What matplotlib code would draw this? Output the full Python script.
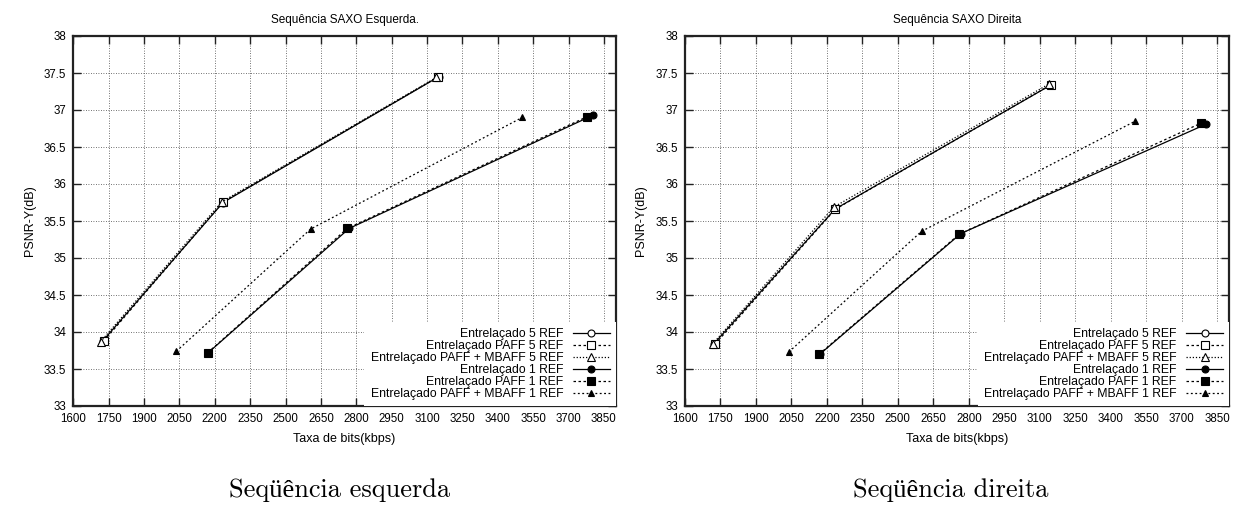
import matplotlib
matplotlib.use('Agg')
import matplotlib.pyplot as plt
from matplotlib.ticker import FuncFormatter

plt.rcParams['font.family'] = ['Liberation Sans', 'DejaVu Sans']

# ---------------- data ----------------
series_labels = ["Entrelaçado 5 REF", "Entrelaçado PAFF 5 REF",
                 "Entrelaçado PAFF + MBAFF 5 REF", "Entrelaçado 1 REF",
                 "Entrelaçado PAFF 1 REF", "Entrelaçado PAFF + MBAFF 1 REF"]
titles = ["Sequência SAXO Esquerda.", "Sequência SAXO Direita"]
captions = ["Seqüência esquerda", "Seqüência direita"]
x_ticks = [1600, 1750, 1900, 2050, 2200, 2350, 2500, 2650, 2800, 2950,
           3100, 3250, 3400, 3550, 3700, 3850]
y_ticks = [33, 33.5, 34, 34.5, 35, 35.5, 36, 36.5, 37, 37.5, 38]

# left sequence (esquerda)
esq_ent5_x = [1725, 2235, 3150]
esq_ent5_y = [33.88, 35.75, 37.45]
esq_paff5_x = [1730, 2236, 3148]
esq_paff5_y = [33.88, 35.76, 37.45]
esq_mbaff5_x = [1716, 2230, 3140]
esq_mbaff5_y = [33.87, 35.76, 37.44]
esq_ent1_x = [2172, 2770, 3804]
esq_ent1_y = [33.72, 35.40, 36.93]
esq_paff1_x = [2170, 2762, 3779]
esq_paff1_y = [33.72, 35.40, 36.91]
esq_mbaff1_x = [2037, 2606, 3504]
esq_mbaff1_y = [33.74, 35.39, 36.90]

# right sequence (direita)
dir_ent5_x = [1722, 2234, 3148]
dir_ent5_y = [33.84, 35.66, 37.34]
dir_paff5_x = [1728, 2236, 3146]
dir_paff5_y = [33.84, 35.66, 37.34]
dir_mbaff5_x = [1717, 2230, 3138]
dir_mbaff5_y = [33.84, 35.69, 37.35]
dir_ent1_x = [2170, 2766, 3804]
dir_ent1_y = [33.70, 35.33, 36.81]
dir_paff1_x = [2167, 2759, 3780]
dir_paff1_y = [33.70, 35.32, 36.82]
dir_mbaff1_x = [2039, 2600, 3504]
dir_mbaff1_y = [33.73, 35.36, 36.85]

left_series = [(esq_ent5_x, esq_ent5_y), (esq_paff5_x, esq_paff5_y),
               (esq_mbaff5_x, esq_mbaff5_y), (esq_ent1_x, esq_ent1_y),
               (esq_paff1_x, esq_paff1_y), (esq_mbaff1_x, esq_mbaff1_y)]
right_series = [(dir_ent5_x, dir_ent5_y), (dir_paff5_x, dir_paff5_y),
                (dir_mbaff5_x, dir_mbaff5_y), (dir_ent1_x, dir_ent1_y),
                (dir_paff1_x, dir_paff1_y), (dir_mbaff1_x, dir_mbaff1_y)]

# ---------------- styles ----------------
styles = [
    dict(ls='-', marker='o', mfc='white', ms=5),
    dict(ls=(0, (2, 2)), marker='s', mfc='white', ms=5.5),
    dict(ls=(0, (1, 1.5)), marker='^', mfc='white', ms=6),
    dict(ls='-', marker='o', mfc='black', ms=5),
    dict(ls=(0, (2, 2)), marker='s', mfc='black', ms=5.5),
    dict(ls=(0, (1.5, 2)), marker='^', mfc='black', ms=4),
]

W, H = 1241, 509
fig = plt.figure(figsize=(W / 100, H / 100), dpi=100)
ax_rects = [
    [73.3 / W, (H - 406) / H, (615.7 - 73.3) / W, 370 / H],
    [685 / W, (H - 406) / H, (1229 - 685) / W, 370 / H],
]

for k, (rect, series) in enumerate(zip(ax_rects, [left_series, right_series])):
    ax = fig.add_axes(rect)
    for (xs, ys), st, lab in zip(series, styles, series_labels):
        ax.plot(xs, ys, color='black', lw=0.9, ls=st['ls'], marker=st['marker'],
                mfc=st['mfc'], mec='black', mew=0.8, ms=st['ms'], label=lab,
                zorder=3)
    ax.set_xlim(1600, 3900)
    ax.set_ylim(33, 38)
    ax.set_xticks(x_ticks)
    ax.set_yticks(y_ticks)
    ax.yaxis.set_major_formatter(FuncFormatter(lambda v, p: f"{v:g}"))
    ax.tick_params(direction='in', length=6, width=1, top=True, right=True,
                   labelsize=8.3, pad=5, color='#222222')
    ax.grid(True, color='#444444', ls=(0, (1, 2)), lw=0.6, zorder=0)
    ax.set_axisbelow(True)
    for sp in ax.spines.values():
        sp.set_linewidth(1.6)
        sp.set_color('#222222')
    ax.set_title(titles[k], fontsize=8.5, pad=9)
    ax.set_xlabel("Taxa de bits(kbps)", fontsize=9, labelpad=6)
    ax.set_ylabel("PSNR-Y(dB)", fontsize=9, labelpad=6)
    leg = ax.legend(loc='lower right', bbox_to_anchor=(1.0, 0.0), markerfirst=False,
                    frameon=True, fancybox=False, edgecolor='none', facecolor='white',
                    framealpha=1, fontsize=8.8, handlelength=3.0, handletextpad=0.8,
                    labelspacing=0.0, borderpad=0.5, borderaxespad=0.0)
    leg.set_zorder(5)

cap_x = [340 / W, 951 / W]
for cx, cap in zip(cap_x, captions):
    fig.text(cx, 19 / H, cap, ha='center', va='center', fontsize=19,
             family=['cmr10', 'Liberation Serif', 'DejaVu Serif'])

fig.savefig('out.png', dpi=100)
